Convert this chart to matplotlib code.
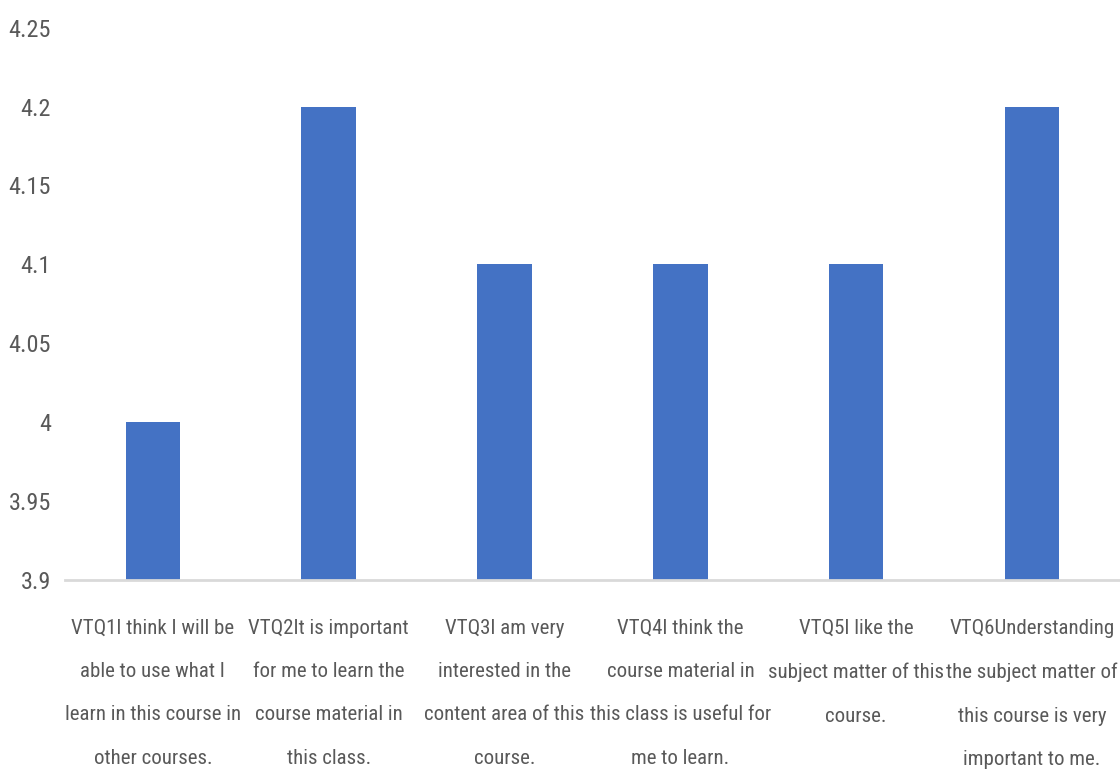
import matplotlib.pyplot as plt
from matplotlib import font_manager

# survey items and their mean scores
labels = [
    "VTQ1I think I will be\nable to use what I\nlearn in this course in\nother courses.",
    "VTQ2It is important\nfor me to learn the\ncourse material in\nthis class.",
    "VTQ3I am very\ninterested in the\ncontent area of this\ncourse.",
    "VTQ4I think the\ncourse material in\nthis class is useful for\nme to learn.",
    "VTQ5I like the\nsubject matter of this\ncourse.",
    "VTQ6Understanding\nthe subject matter of\nthis course is very\nimportant to me.",
]
means = [4.0, 4.2, 4.1, 4.1, 4.1, 4.2]
yticks = [3.9, 3.95, 4.0, 4.05, 4.1, 4.15, 4.2, 4.25]
ytick_labels = ["3.9", "3.95", "4", "4.05", "4.1", "4.15", "4.2", "4.25"]

names = {f.name for f in font_manager.fontManager.ttflist}
family = "DejaVu Sans"
for cand in ["Liberation Sans Narrow", "Roboto Condensed", "DejaVu Sans Condensed"]:
    if cand in names:
        family = cand
        break
plt.rcParams["font.family"] = [family, "DejaVu Sans"]

fig = plt.figure(figsize=(11.2, 7.71), dpi=100)
ax = fig.add_axes([0.058, 0.248, 0.942, 0.716])

ax.bar(range(len(means)), means, width=0.31, color="#4472C4")
ax.set_ylim(3.9, 4.25)
ax.set_xlim(-0.5, len(means) - 0.5)

ax.set_yticks(yticks)
ax.set_yticklabels(ytick_labels)
ax.set_xticks(range(len(means)))
ax.set_xticklabels(labels, linespacing=2.62, fontsize=15)

ax.tick_params(axis="both", length=0, colors="#595959")
ax.tick_params(axis="y", labelsize=17.5, pad=10)
ax.tick_params(axis="x", pad=28)

for side in ["top", "right", "left"]:
    ax.spines[side].set_visible(False)
ax.spines["bottom"].set_color("#d9d9d9")
ax.spines["bottom"].set_linewidth(2)

fig.savefig("out.png", dpi=100)
